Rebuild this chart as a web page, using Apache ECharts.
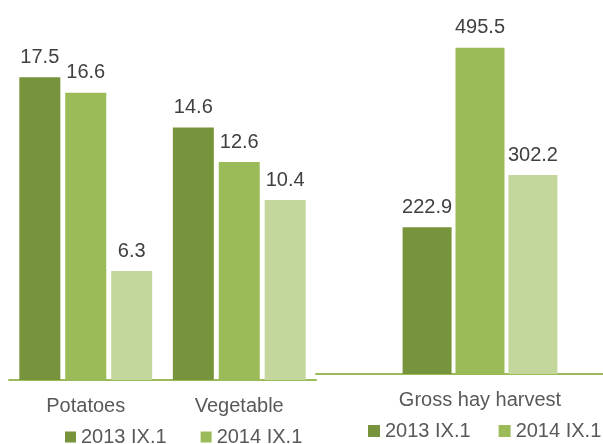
<!DOCTYPE html>
<html>
<head>
<meta charset="utf-8">
<script src="https://cdn.jsdelivr.net/npm/echarts@6/dist/echarts.min.js"></script>
<style>html,body{margin:0;padding:0;background:#fff}#c{width:603px;height:444px}</style>
</head>
<body>
<div id="c"></div>
<script>
var categoriesLeft = ['Potatoes', 'Vegetable'];
var left2013 = [17.5, 14.6];
var left2014 = [16.6, 12.6];
var left3 = [6.3, 10.4];
var categoriesRight = ['Gross hay harvest'];
var right2013 = [222.9];
var right2014 = [495.5];
var right3 = [302.2];
var legendNames = ['2013 IX.1', '2014 IX.1'];
var thirdName = 'Series 3';

var C1 = '#77933C', C2 = '#9BBB59', C3 = '#C3D69B';
var FONT = 'Liberation Sans, Arial, sans-serif';
var lbl = {show: true, position: 'top', distance: 10, color: '#404040', fontSize: 20, fontFamily: FONT};

function bar(name, data, color, axis, w, gap) {
  return {name: name, type: 'bar', xAxisIndex: axis, yAxisIndex: axis, data: data,
    barWidth: w, barGap: gap, itemStyle: {color: color}, label: lbl, animation: false};
}

var chart = echarts.init(document.getElementById('c'));
chart.setOption({
  animation: false,
  grid: [
    {left: 9, width: 307, top: 34, bottom: 64, outerBoundsMode: 'none', containLabel: false},
    {left: 316, width: 328, top: 12, bottom: 70, outerBoundsMode: 'none', containLabel: false}
  ],
  legend: [
    {data: legendNames, left: 65, top: 427, padding: 0, width: 400, icon: 'rect', itemWidth: 11, itemHeight: 11, itemGap: 34,
     textStyle: {fontSize: 20, color: '#595959', fontFamily: FONT}, selectedMode: false},
    {data: legendNames, left: 368, top: 421, padding: 0, width: 400, icon: 'rect', itemWidth: 12, itemHeight: 12, itemGap: 28,
     textStyle: {fontSize: 20, color: '#595959', fontFamily: FONT}, selectedMode: false}
  ],
  xAxis: [
    {type: 'category', gridIndex: 0, data: categoriesLeft, axisTick: {show: false},
     axisLine: {lineStyle: {color: '#9BBB59', width: 2}},
     axisLabel: {margin: 16, fontSize: 20, color: '#595959', fontFamily: FONT}},
    {type: 'category', gridIndex: 1, data: categoriesRight, axisTick: {show: false},
     axisLine: {lineStyle: {color: '#9BBB59', width: 2}},
     axisLabel: {margin: 16, fontSize: 20, color: '#595959', fontFamily: FONT}}
  ],
  yAxis: [
    {type: 'value', gridIndex: 0, min: 0, max: 20, show: false, splitLine: {show: false}},
    {type: 'value', gridIndex: 1, min: 0, max: 550, show: false, splitLine: {show: false}}
  ],
  series: [
    bar(legendNames[0], left2013, C1, 0, 41, '12%'),
    bar(legendNames[1], left2014, C2, 0, 41, '12%'),
    bar(thirdName, left3, C3, 0, 41, '12%'),
    bar(legendNames[0], right2013, C1, 1, 49, '8%'),
    bar(legendNames[1], right2014, C2, 1, 49, '8%'),
    bar(thirdName, right3, C3, 1, 49, '8%')
  ]
});
</script>
</body>
</html>
